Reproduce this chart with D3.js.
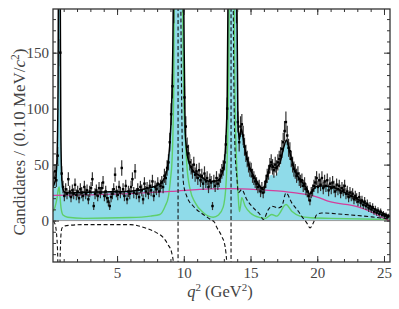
<!DOCTYPE html>
<html>
<head>
<meta charset="utf-8">
<script src="https://cdn.jsdelivr.net/npm/d3@7"></script>
<style>
  body { margin: 0; background: #fff; }
  text { font-family: "Liberation Serif", "DejaVu Serif", serif; }
</style>
</head>
<body>
<div id="chart"></div>
<script>
// histogram: bins of 0.1 GeV^2 starting at 0.2
const binLow = 0.2;
const binWidth = 0.1;
const counts = [
  38, 44, 36, 58, 260, 150, 42, 30, 22, 28,
  24, 37, 26, 21, 27, 24, 32, 23, 26, 20,
  28, 25, 22, 30, 24, 27, 19, 26, 29, 37,
  13, 24, 27, 22, 29, 25, 29, 34, 22, 26,
  20, 17, 13, 21, 24, 28, 41, 26, 23, 30,
  25, 47, 28, 22, 31, 19, 26, 24, 30, 37,
  25, 44, 24, 28, 21, 30, 27, 19, 33, 26,
  29, 24, 31, 27, 35, 22, 30, 28, 33, 26,
  31, 34, 30, 40, 38, 47, 52, 70, 95, 120,
  190, 300, 600, 900, 1000, 800, 400, 200, 110, 84,
  66, 60, 52, 48, 44, 50, 41, 44, 38, 45,
  36, 40, 33, 42, 35, 38, 30, 36, 34, 13,
  35, 31, 38, 33, 36, 40, 44, 47, 52, 68,
  100, 220, 700, 1100, 900, 400, 250, 190, 88, 70,
  84, 86, 76, 66, 60, 55, 50, 46, 45, 40,
  38, 35, 33, 30, 31, 26, 29, 25, 30, 35,
  40, 43, 49, 52, 48, 45, 50, 47, 52, 55,
  58, 64, 70, 80, 88, 76, 65, 62, 55, 50,
  46, 44, 40, 42, 37, 35, 36, 31, 33, 28,
  26, 22, 18, 25, 27, 31, 34, 38, 30, 36,
  32, 38, 29, 35, 31, 36, 27, 33, 29, 34,
  30, 26, 32, 28, 31, 25, 29, 27, 31, 24,
  26, 21, 25, 22, 24, 19, 22, 20, 17, 21,
  16, 18, 14, 17, 13, 15, 11, 13, 10, 12,
  8, 10, 7, 9, 6, 8, 5, 6, 4, 5,
  3, 4
];

// fit components, [q2, candidates]
const totalFit = [
  [0.2,30],[0.3,33],[0.4,38],[0.5,55],[0.58,120],[0.63,300],[0.68,420],[0.73,250],
  [0.78,90],[0.85,40],[0.95,28],[1.1,25],[1.5,24.7],[2.5,25.2],[4,25.6],[6,26.3],
  [7.5,29.5],[8.2,32.5],[8.6,39.5],[8.85,54],[9.0,78],[9.1,108],[9.2,180],[9.3,400],
  [9.57,3000],[9.85,400],[10.0,189],[10.1,80],[10.3,56],[10.6,46],[11.2,40],[12.0,35],
  [12.5,35.5],[12.8,40],[13.0,48],[13.15,72],[13.25,108],[13.35,250],[13.54,3000],
  [13.8,500],[13.95,250],[14.05,95],[14.15,72],[14.3,82],[14.42,76],[14.55,66],[14.75,55],
  [15.0,45.5],[15.4,36.5],[15.75,29.5],[15.95,27.5],[16.25,39.5],[16.55,50],[16.8,47],
  [17.2,51.5],[17.5,66],[17.7,72],[17.9,63],[18.1,54],[18.35,44],[18.7,37],[19.2,29],
  [19.45,23.5],[19.7,27.7],[19.96,30.6],[20.33,31],[21.1,30],[22.1,24.7],[23.3,17.3],
  [24.6,8.3],[25.45,3.8]
];
const fillFit = [
  [0.2,30],[0.3,33],[0.4,38],[0.5,55],[0.58,120],[0.63,300],[0.68,420],[0.73,250],
  [0.78,90],[0.85,40],[0.95,28],[1.1,25],[1.5,24.7],[2.5,25.2],[4,25.6],[6,26.3],
  [7.5,29.5],[8.2,32.5],[8.6,39.5],[8.85,54],[9.0,78],[9.1,108],[9.2,180],[9.3,400],
  [9.57,3000],[9.85,400],[10.0,189],[10.1,80],[10.3,56],[10.6,46],[11.2,40],[12.0,35],
  [12.5,34],[12.8,38],[13.0,46],[13.15,72],[13.25,108],[13.35,250],[13.54,3000],
  [13.8,500],[13.95,250],[14.05,95],[14.15,72],[14.3,82],[14.42,76],[14.55,66],[14.75,55],
  [15.0,45.5],[15.4,36.5],[15.75,29.5],[15.95,27.5],[16.25,34],[16.55,41],[16.8,40],
  [17.2,48],[17.5,64],[17.7,71],[17.9,63],[18.1,54],[18.35,44],[18.7,37],[19.2,29],
  [19.45,23.5],[19.7,27.7],[19.96,30.6],[20.33,31],[21.1,30],[22.1,24.7],[23.3,17.3],
  [24.6,8.3],[25.45,3.8]
];
const resonances = [
  [0.2,8],[0.35,12],[0.5,20],[0.6,28],[0.66,30],[0.72,22],[0.8,11.6],[0.95,5],[1.3,3],
  [2.5,2],[6,2.7],[7.5,4],[8.2,5.4],[8.6,12.8],[8.85,21.7],[9.0,36.6],[9.12,54],
  [9.25,120],[9.4,500],[9.57,3000],[9.75,500],[9.95,150],[10.0,108],[10.1,78],
  [10.24,48],[10.47,28],[10.85,16],[11.47,7],[12.2,3],[12.6,5],[12.95,12],[13.15,30],
  [13.3,80],[13.4,200],[13.54,3000],[13.7,300],[13.85,100],[13.97,48],[14.09,19],
  [14.17,8],[14.25,13],[14.34,20.5],[14.6,12.8],[14.97,7],[15.7,2.7],[16.1,2],
  [16.59,5.4],[16.97,4],[17.66,14.3],[18.09,8.3],[18.7,4],[19.5,2.5],[21,2],[25.45,1]
];
const nonResonant = [
  [0.2,22.5],[3,23],[6,24],[9,26],[12,28.3],[13.5,28.5],[15.5,27.7],[17,26.5],
  [18.5,24.5],[20,21],[20.8,17.3],[23.05,12.2],[24,8],[24.9,2.5],[25.4,0]
];
const interference = [
  [0.2,-0.5],[0.35,-3],[0.45,-10],[0.55,-30],[0.62,-80],[0.68,-60],[0.74,-30],
  [0.8,-12],[0.88,-6.5],[1.2,-4.5],[2.5,-3.6],[6,-3.6],[6.95,-6],[7.97,-11],
  [8.45,-15],[8.82,-21.5],[9.1,-29],[9.22,-37.5],[9.35,-60],[9.47,-150],[9.54,-500],
  [9.565,-3000],[9.575,3000],[9.62,800],[9.7,350],[9.78,189],[9.97,34],[10.22,21.7],
  [10.72,12.8],[11.46,5.4],[12.0,1],[12.3,-1.5],[12.47,-6],[12.84,-14],[13.09,-23],
  [13.22,-37.5],[13.35,-70],[13.45,-150],[13.51,-500],[13.535,-3000],[13.545,3000],
  [13.6,500],[13.71,189],[13.84,63],[13.97,39.5],[14.09,25],[14.34,27.7],[14.72,18.75],
  [15.21,11.3],[15.71,5.4],[15.96,1],[16.33,9.8],[16.59,12.8],[17.08,11.3],[17.34,12.8],
  [17.66,24.7],[18.09,15.8],[18.58,8.3],[18.84,3.8],[19.21,-2],[19.46,-6.5],[19.71,-2],
  [19.96,5.4],[20.33,6.8],[22.08,5.4],[24.08,3.3],[25.3,1.5]
];

const xMajor = [5, 10, 15, 20, 25];
const yMajor = [0, 50, 100, 150];

const width = 399, height = 309;
const plot = { left: 53, right: 390, top: 9, bottom: 262 };

const svg = d3.select('#chart').append('svg')
  .attr('width', width)
  .attr('height', height);

const x = d3.scaleLinear().domain([0.2, 25.45]).range([plot.left, plot.right]);
const y = d3.scaleLinear().domain([-37, 189]).range([plot.bottom, plot.top]);

svg.append('clipPath').attr('id', 'clip')
  .append('rect')
  .attr('x', plot.left).attr('y', plot.top)
  .attr('width', plot.right - plot.left).attr('height', plot.bottom - plot.top);

const g = svg.append('g').attr('clip-path', 'url(#clip)');

const line = d3.line()
  .x(function (d) { return x(d[0]); })
  .y(function (d) { return y(d[1]); })
  .curve(d3.curveMonotoneX);

const area = d3.area()
  .x(function (d) { return x(d[0]); })
  .y0(y(0))
  .y1(function (d) { return y(d[1]); })
  .curve(d3.curveMonotoneX);

// cyan total fit fill
g.append('path').datum(fillFit)
  .attr('d', area)
  .attr('fill', '#8fdbe9');

// zero line
g.append('line')
  .attr('x1', plot.left).attr('x2', plot.right)
  .attr('y1', y(0)).attr('y2', y(0))
  .attr('stroke', '#999').attr('stroke-width', 1);

g.append('path').datum(resonances)
  .attr('d', line)
  .attr('fill', 'none')
  .attr('stroke', '#5fcf6a')
  .attr('stroke-width', 1.4);

g.append('path').datum(nonResonant)
  .attr('d', line)
  .attr('fill', 'none')
  .attr('stroke', '#d43f9c')
  .attr('stroke-width', 1.3);

g.append('path').datum(interference)
  .attr('d', line)
  .attr('fill', 'none')
  .attr('stroke', '#111')
  .attr('stroke-width', 1.1)
  .attr('stroke-dasharray', '4,2.5');

// data points with poisson error bars
const bins = counts.map(function (n, i) {
  return { lo: binLow + i * binWidth, hi: binLow + (i + 1) * binWidth, n: n, err: Math.sqrt(n) };
});

const pts = g.append('g');
pts.selectAll('.ebar').data(bins).enter().append('line')
  .attr('x1', function (d) { return x((d.lo + d.hi) / 2); })
  .attr('x2', function (d) { return x((d.lo + d.hi) / 2); })
  .attr('y1', function (d) { return y(d.n - d.err); })
  .attr('y2', function (d) { return y(d.n + d.err); })
  .attr('stroke', '#333')
  .attr('stroke-width', 1.2);

pts.selectAll('.hbar').data(bins).enter().append('line')
  .attr('x1', function (d) { return x(d.lo); })
  .attr('x2', function (d) { return x(d.hi); })
  .attr('y1', function (d) { return y(d.n); })
  .attr('y2', function (d) { return y(d.n); })
  .attr('stroke', '#000')
  .attr('stroke-width', 1);

pts.selectAll('.dot').data(bins).enter().append('rect')
  .attr('x', function (d) { return x((d.lo + d.hi) / 2) - 1.2; })
  .attr('y', function (d) { return y(d.n) - 1.2; })
  .attr('width', 2.4).attr('height', 2.4)
  .attr('fill', '#000');

g.append('path').datum(totalFit)
  .attr('d', line)
  .attr('fill', 'none')
  .attr('stroke', '#000')
  .attr('stroke-width', 1.5);

// axes, ticks pointing inward on all four sides
const axisColor = '#333';
function styleAxis(sel) {
  sel.select('.domain').remove();
  sel.selectAll('line').attr('stroke', axisColor);
  sel.selectAll('text')
    .attr('fill', '#444')
    .style('font-size', '15px');
}

const xMinor = d3.range(1, 26);
const yMinor = d3.range(-30, 190, 10);

svg.append('g').attr('transform', 'translate(0,' + plot.bottom + ')')
  .call(d3.axisBottom(x).tickValues(xMinor).tickSize(-3).tickFormat(''))
  .call(styleAxis);
svg.append('g').attr('transform', 'translate(0,' + plot.bottom + ')')
  .call(d3.axisBottom(x).tickValues(xMajor).tickSize(-6).tickPadding(5).tickFormat(d3.format('d')))
  .call(styleAxis);
svg.append('g').attr('transform', 'translate(0,' + plot.top + ')')
  .call(d3.axisTop(x).tickValues(xMinor).tickSize(-3).tickFormat(''))
  .call(styleAxis);
svg.append('g').attr('transform', 'translate(0,' + plot.top + ')')
  .call(d3.axisTop(x).tickValues(xMajor).tickSize(-6).tickFormat(''))
  .call(styleAxis);

svg.append('g').attr('transform', 'translate(' + plot.left + ',0)')
  .call(d3.axisLeft(y).tickValues(yMinor).tickSize(-3).tickFormat(''))
  .call(styleAxis);
svg.append('g').attr('transform', 'translate(' + plot.left + ',0)')
  .call(d3.axisLeft(y).tickValues(yMajor).tickSize(-6).tickPadding(4).tickFormat(d3.format('d')))
  .call(styleAxis);
svg.append('g').attr('transform', 'translate(' + plot.right + ',0)')
  .call(d3.axisRight(y).tickValues(yMinor).tickSize(-3).tickFormat(''))
  .call(styleAxis);
svg.append('g').attr('transform', 'translate(' + plot.right + ',0)')
  .call(d3.axisRight(y).tickValues(yMajor).tickSize(-6).tickFormat(''))
  .call(styleAxis);

svg.append('rect')
  .attr('x', plot.left).attr('y', plot.top)
  .attr('width', plot.right - plot.left).attr('height', plot.bottom - plot.top)
  .attr('fill', 'none')
  .attr('stroke', axisColor)
  .attr('stroke-width', 1.3);

// axis titles
const xt = svg.append('text')
  .attr('x', 220).attr('y', 297)
  .attr('text-anchor', 'middle')
  .attr('fill', '#444')
  .style('font-size', '16.5px');
xt.append('tspan').style('font-style', 'italic').text('q');
xt.append('tspan').attr('dy', -6).style('font-size', '11px').text('2');
xt.append('tspan').attr('dy', 6).text(' (GeV');
xt.append('tspan').attr('dy', -6).style('font-size', '11px').text('2');
xt.append('tspan').attr('dy', 6).text(')');

const yt = svg.append('text')
  .attr('transform', 'translate(25,142) rotate(-90)')
  .attr('text-anchor', 'middle')
  .attr('fill', '#444')
  .style('font-size', '17px');
yt.append('tspan').text('Candidates / (0.10 MeV/');
yt.append('tspan').style('font-style', 'italic').text('c');
yt.append('tspan').attr('dy', -6).style('font-size', '11.5px').text('2');
yt.append('tspan').attr('dy', 6).text(')');
</script>
</body>
</html>
